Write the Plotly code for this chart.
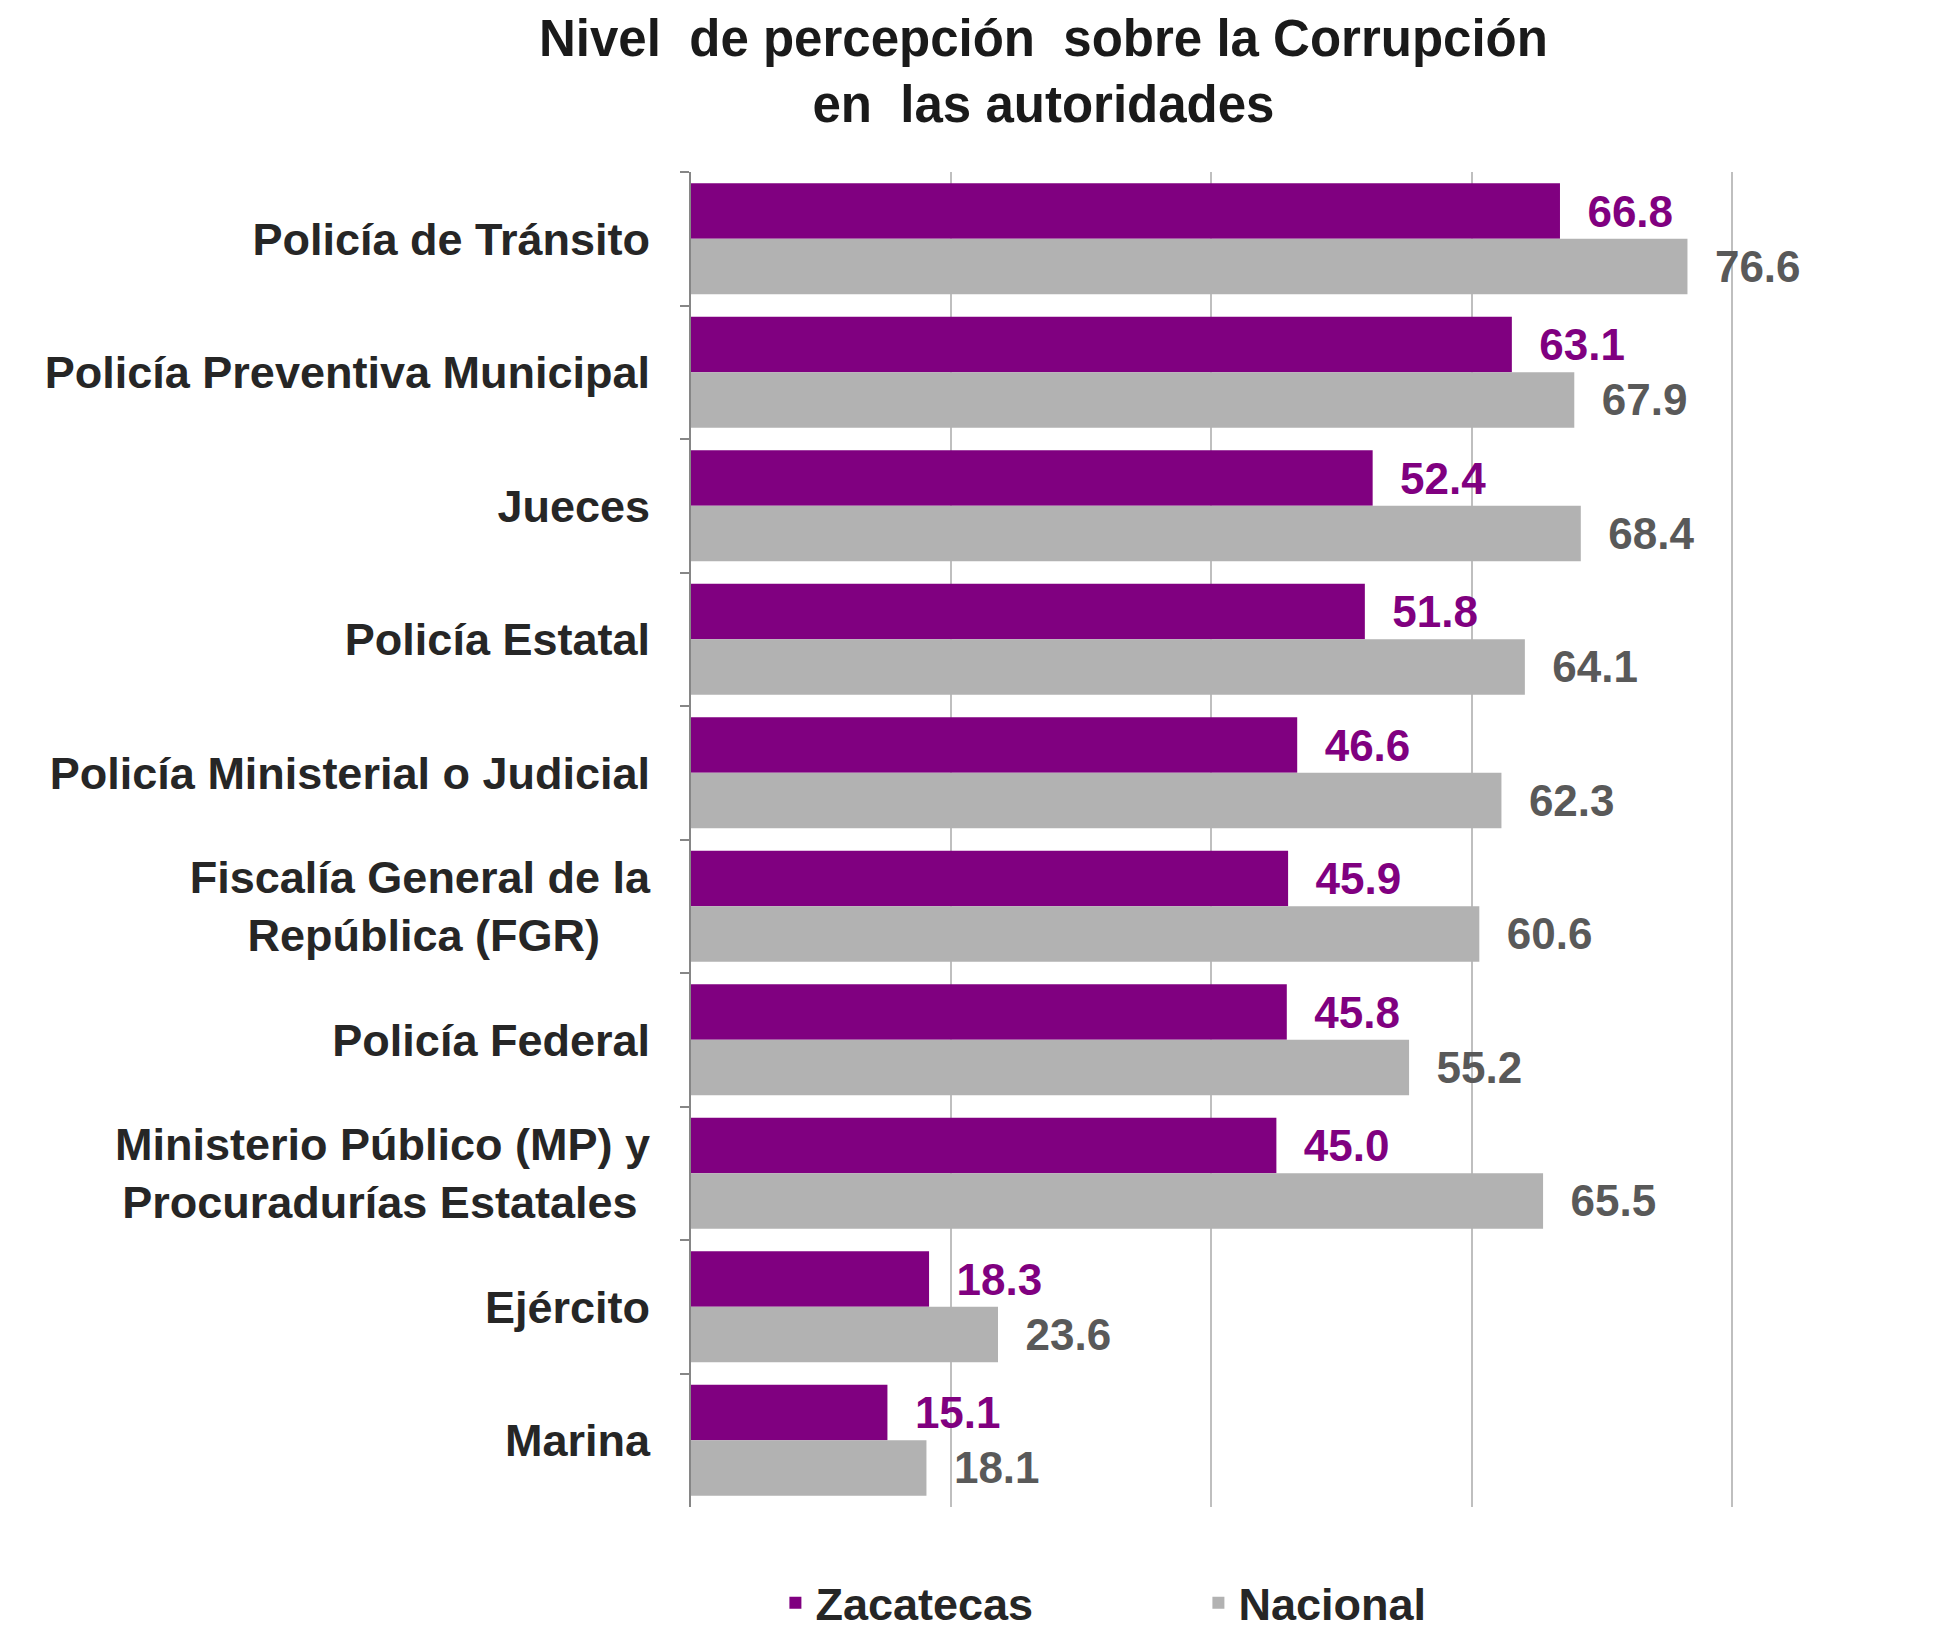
import plotly.graph_objects as go

categories = [
    "Policía de Tránsito",
    "Policía Preventiva Municipal",
    "Jueces",
    "Policía Estatal",
    "Policía Ministerial o Judicial",
    "Fiscalía General de la<br>República (FGR)\u00a0\u00a0\u00a0\u00a0",
    "Policía Federal",
    "Ministerio Público (MP) y<br>Procuradurías Estatales\u00a0",
    "Ejército",
    "Marina",
]
zacatecas = [66.8, 63.1, 52.4, 51.8, 46.6, 45.9, 45.8, 45.0, 18.3, 15.1]
nacional = [76.6, 67.9, 68.4, 64.1, 62.3, 60.6, 55.2, 65.5, 23.6, 18.1]
title_text = "Nivel  de percepción  sobre la Corrupción<br>en  las autoridades"

FONT = "Liberation Sans, Arial, sans-serif"
PURPLE = "#800080"
GRAY = "#B2B2B2"

fig = go.Figure()
fig.add_trace(go.Bar(
    y=categories, x=zacatecas, orientation="h", name="Zacatecas",
    marker=dict(color=PURPLE, line=dict(width=0)),
    texttemplate="\u00a0\u00a0%{x:.1f}", textposition="outside",
    textfont=dict(family=FONT, size=44, color=PURPLE, weight="bold"),
    cliponaxis=False,
))
fig.add_trace(go.Bar(
    y=categories, x=nacional, orientation="h", name="Nacional",
    marker=dict(color=GRAY, line=dict(width=0)),
    texttemplate="\u00a0\u00a0%{x:.1f}", textposition="outside",
    textfont=dict(family=FONT, size=44, color="#595959", weight="bold"),
    cliponaxis=False,
))

fig.update_layout(
    width=1957, height=1635,
    paper_bgcolor="white", plot_bgcolor="white",
    barmode="group", bargap=0.17, bargroupgap=0,
    margin=dict(l=683, r=232, t=164, b=136, autoexpand=False),
    legend=dict(
        orientation="h", x=0.081, xanchor="left", y=-0.072, yanchor="middle",
        font=dict(family=FONT, size=45, color="#262626", weight="bold"),
        itemwidth=30, entrywidth=378, bgcolor="rgba(0,0,0,0)",
    ),
    annotations=[dict(
        text=title_text, xref="paper", yref="paper",
        x=0.338, xanchor="center", y=1.123, yanchor="top",
        showarrow=False, align="center",
        font=dict(family=FONT, size=51, color="#1a1a1a", weight="bold"),
    )],
)
fig.update_xaxes(
    range=[0, 80.1], dtick=20, showticklabels=False,
    showgrid=True, gridcolor="#BFBFBF", gridwidth=2,
    zeroline=False, showline=False, ticks="",
)
fig.update_yaxes(
    autorange="reversed", tickson="boundaries", automargin=False,
    showline=True, linecolor="#868686", linewidth=2,
    ticks="outside", ticklen=9, tickwidth=2, tickcolor="#868686",
    ticklabelstandoff=30,
    tickfont=dict(family=FONT, size=45, color="#262626", weight="bold"),
    showgrid=False,
)

fig.write_html("out.html")
